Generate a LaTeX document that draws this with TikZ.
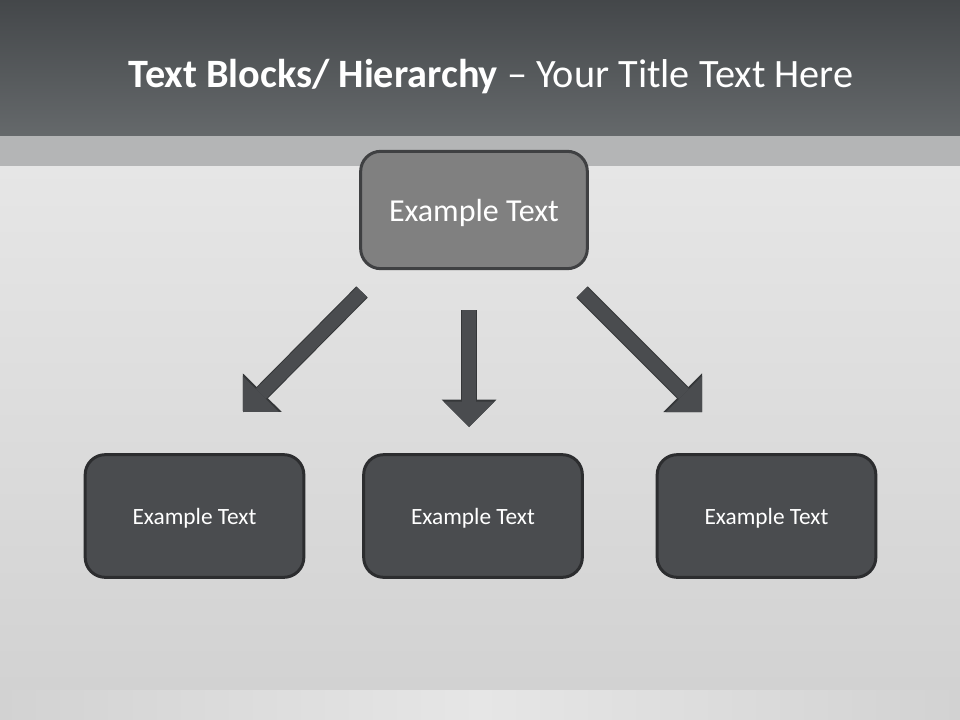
\documentclass[tikz,border=0pt]{standalone}
\usepackage{fontspec}
\setmainfont{Carlito}
\usetikzlibrary{arrows.meta, positioning}

\definecolor{headtop}{HTML}{44474A}
\definecolor{headbot}{HTML}{65696B}
\definecolor{bandgray}{HTML}{B4B5B6}
\definecolor{bgtop}{HTML}{E6E6E6}
\definecolor{bgbot}{HTML}{D2D2D2}
\definecolor{floorgray}{HTML}{E6E6E6}
\definecolor{topfill}{HTML}{808080}
\definecolor{topedge}{HTML}{3F4042}
\definecolor{boxfill}{HTML}{4A4C4F}
\definecolor{boxedge}{HTML}{2C2D2F}
\definecolor{arrowedge}{HTML}{353739}

\tikzset{
  topbox/.style={draw=topedge, line width=2.25pt, fill=topfill,
    rounded corners=15pt, minimum width=170pt, minimum height=88pt,
    text depth=0pt, text height=17pt,
    text=white, font=\fontsize{24}{28}\selectfont},
  leafbox/.style={draw=boxedge, line width=2.25pt, fill=boxfill,
    rounded corners=15pt, minimum width=164pt, minimum height=92pt,
    text depth=0pt, text height=12.7pt,
    text=white, font=\fontsize{17.5}{21}\selectfont},
  hierarrow/.style={line width=10.5pt, draw=boxfill,
    -{Triangle[length=19pt, width=38pt, line width=0pt]},
    preaction={draw=arrowedge, line width=12pt,
      -{Triangle[length=20.5pt, width=41pt, line width=0pt]}}}
}

\begin{document}
\begin{tikzpicture}[x=0.75pt, y=-0.75pt]
  \useasboundingbox (0,0) rectangle (960,720);

  % background
  \shade[top color=bgtop, bottom color=bgbot] (0,166) rectangle (960,690);
  \shade[left color=bgbot, right color=bgbot, middle color=floorgray]
    (0,690) rectangle (960,720);
  \shade[top color=headtop, bottom color=headbot] (0,0) rectangle (960,136);
  \fill[bandgray] (0,136) rectangle (960,166);

  \node[anchor=base, text=white, font=\fontsize{30.2}{35}\selectfont] (title)
    at (491,88) {\textbf{Text Blocks/ Hierarchy} – Your Title Text Here};

  % boxes
  \node[topbox] (top) at (474,210) {Example Text};
  \node[leafbox] (left) at (194.5,516) {Example Text};
  \node[leafbox] (mid) at (473,516) {Example Text};
  \node[leafbox] (right) at (766.5,516) {Example Text};

  % arrows
  \coordinate (lt) at (362,292);
  \coordinate (lh) at (243,412);
  \coordinate (mt) at (469,310);
  \coordinate (mh) at (469,427);
  \coordinate (rt) at (582,292);
  \coordinate (rh) at (702,412);
  \draw[hierarrow] (lt) -- (lh);
  \draw[hierarrow] (mt) -- (mh);
  \draw[hierarrow] (rt) -- (rh);
\end{tikzpicture}
\end{document}
